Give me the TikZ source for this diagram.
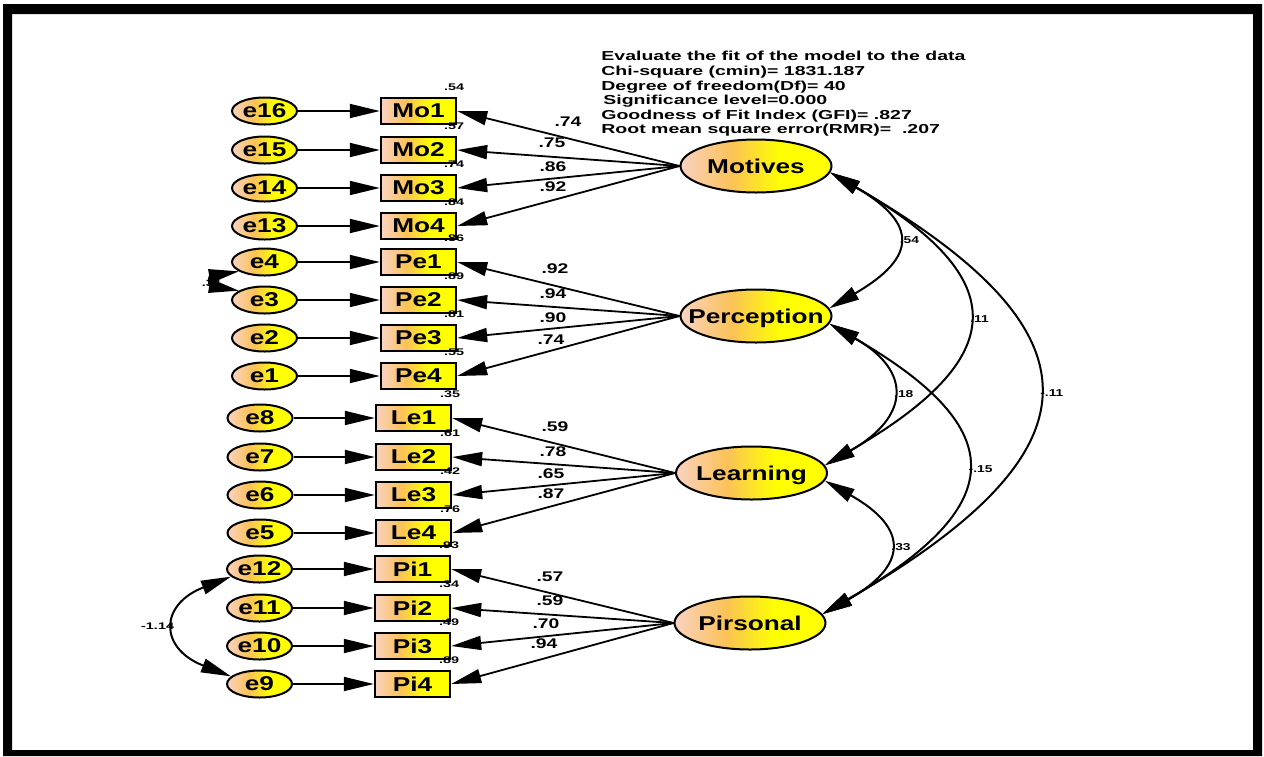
\documentclass[tikz,border=0pt]{standalone}
\usepackage{fontspec}
\setmainfont{Liberation Sans}
\newfontfamily\nodefont[FakeStretch=1.31]{Liberation Sans}
\newfontfamily\coeffont[FakeStretch=1.38]{Liberation Sans}
\newfontfamily\widefont[FakeStretch=1.5]{Liberation Sans}
\usetikzlibrary{arrows.meta,shapes.geometric}

\definecolor{gradL}{RGB}{250,210,195}
\definecolor{gradM}{RGB}{251,194,86}
\definecolor{gradR}{RGB}{255,255,0}
% pale peach on the left, gold in the middle, yellow over the right part
% (the band from 25bp to 75bp spans the filled shape)
\pgfdeclarehorizontalshading{semgrad}{100bp}{color(0bp)=(gradL); color(25bp)=(gradL);
  color(42bp)=(gradM); color(58bp)=(gradR); color(100bp)=(gradR)}

\tikzset{
  grad/.style={shading=semgrad},
  errnode/.style={ellipse, draw, line width=1pt, grad, minimum width=32.5pt,
    minimum height=13.5pt, inner sep=0pt, font=\nodefont\bfseries\fontsize{10}{12}\selectfont},
  obsnode/.style={rectangle, draw, line width=1.2pt, grad, minimum width=37.5pt,
    minimum height=13pt, inner sep=0pt, font=\nodefont\bfseries\fontsize{10}{12}\selectfont},
  latnode/.style={ellipse, draw, line width=1pt, grad, minimum width=75.5pt,
    minimum height=26.5pt, inner sep=0pt, text depth=0pt,
    font=\nodefont\bfseries\fontsize{10}{12}\selectfont},
  rsq/.style={inner sep=0pt, font=\widefont\bfseries\fontsize{4.8}{5.5}\selectfont},
  coef/.style={inner sep=0pt, font=\coeffont\bfseries\fontsize{7}{8}\selectfont},
  covlab/.style={inner sep=1.5pt, font=\coeffont\bfseries\fontsize{5}{6}\selectfont},
  errlab/.style={inner sep=1pt, font=\widefont\bfseries\fontsize{4.8}{5.5}\selectfont},
  fitnote/.style={inner sep=0pt, align=left, font=\widefont\bfseries\fontsize{6.5}{7.3}\selectfont},
  tip/.tip={Triangle[length=15pt,width=7pt]},
  arr/.style={-tip, line width=0.9pt},
  cov/.style={tip-tip, line width=1pt},
}

\begin{document}
\begin{tikzpicture}[x=0.5pt,y=-0.5pt]
\useasboundingbox (0,0) rectangle (1264,756);
% outer black frame
\fill[black, even odd rule] (3,4) rectangle (1262,756) (12,14) rectangle (1253,750);

% model fit summary
\node[fitnote, anchor=north west] (fit) at (601,51) {Evaluate the fit of the model to the data\\
Chi-square (cmin)= 1831.187\\
Degree of freedom(Df)= 40\\
\hspace{1pt}Significance level=0.000\\
Goodness of Fit Index (GFI)= .827\\
Root mean square error(RMR)= \ .207};

% latent variables
\node[latnode] (Motives) at (756,166) {\makebox[0pt]{Motives}};
\node[latnode] (Perception) at (756,316) {\makebox[0pt]{Perception}};
\node[latnode] (Learning) at (751.5,473) {\makebox[0pt]{Learning}};
\node[latnode] (Pirsonal) at (750,623) {\makebox[0pt]{Pirsonal}};

% indicators with their error terms and squared multiple correlations
\foreach \ee/\ob/\yy/\rr in {16/Mo1/111/.54, 15/Mo2/150/.57, 14/Mo3/188/.74, 13/Mo4/226/.84,
                             4/Pe1/262/.86, 3/Pe2/300/.89, 2/Pe3/338/.81, 1/Pe4/376/.55} {
  \node[errnode] (e\ee) at (264.5,\yy) {e\ee};
  \node[obsnode] (\ob) at (418.5,\yy) {\ob};
  \node[rsq] (r\ob) at ([shift={(-3,-9.5)}]\ob.north east) {\rr};
  \draw[arr] (e\ee) -- (\ob);
}
\foreach \ee/\ob/\yy/\rr in {8/Le1/418/.35, 7/Le2/457/.61, 6/Le3/495/.42, 5/Le4/533/.76} {
  \node[errnode] (e\ee) at (260,\yy) {e\ee};
  \node[obsnode] (\ob) at (413.5,\yy) {\ob};
  \node[rsq] (r\ob) at ([shift={(-2,-9.5)}]\ob.north east) {\rr};
  \draw[arr] (e\ee) -- (\ob);
}
\foreach \ee/\ob/\yy/\rr in {12/Pi1/569/.93, 11/Pi2/608/.34, 10/Pi3/646/.49, 9/Pi4/684/.89} {
  \node[errnode] (e\ee) at (259.5,\yy) {e\ee};
  \node[obsnode] (\ob) at (412.5,\yy) {\ob};
  \node[rsq] (r\ob) at ([shift={(-2,-9.5)}]\ob.north east) {\rr};
  \draw[arr] (e\ee) -- (\ob);
}

% factor loadings
\foreach \lat/\ob/\lx/\ly/\val in {
  Motives/Mo1/568/122/.74, Motives/Mo2/552/143/.75, Motives/Mo3/553/167/.86, Motives/Mo4/553/187/.92,
  Perception/Pe1/555/269/.92, Perception/Pe2/553/294/.94, Perception/Pe3/553/318/.90, Perception/Pe4/551/340/.74,
  Learning/Le1/555/427/.59, Learning/Le2/553/452/.78, Learning/Le3/551/474/.65, Learning/Le4/551/494/.87,
  Pirsonal/Pi1/550/577/.57, Pirsonal/Pi2/550/601/.59, Pirsonal/Pi3/546/624/.70, Pirsonal/Pi4/544/644/.94} {
  \draw[arr] (\lat.west) -- (\ob.east);
  \node[coef] (w\ob) at (\lx,\ly) {\val};
}

% correlated error terms
\node[errlab] (c43) at (212,283) {.31};
\draw[cov] (e4.200) .. controls +(-30,5) and +(-30,-5) .. (e3.160);
\draw[cov] (e12.195) .. controls +(-72,28) and +(-72,-28) .. (e9.165)
  node[errlab, pos=0.5, anchor=east] (c129) {-1.14};

% covariances between latent variables
\draw[cov] (Motives.-5) .. controls +(88,51) and +(88,-51) .. (Perception.6)
  node[covlab, pos=0.5, anchor=west] (cMP) {.54};
\draw[cov] (Motives.-5) .. controls +(185,107) and +(185,-107) .. (Learning.6)
  node[covlab, pos=0.5, anchor=west] (cML) {.11};
\draw[cov] (Motives.-5) .. controls +(280,162) and +(280,-162) .. (Pirsonal.7)
  node[covlab, pos=0.5, anchor=west] (cMPi) {-.11};
\draw[cov] (Perception.-6) .. controls +(84,48) and +(84,-48) .. (Learning.6)
  node[covlab, pos=0.5, anchor=west] (cPL) {.18};
\draw[cov] (Perception.-6) .. controls +(185,107) and +(185,-107) .. (Pirsonal.7)
  node[covlab, pos=0.5, anchor=west] (cPPi) {-.15};
\draw[cov] (Learning.-6) .. controls +(85,48) and +(85,-48) .. (Pirsonal.7)
  node[covlab, pos=0.5, anchor=west] (cLPi) {.33};
\end{tikzpicture}
\end{document}
